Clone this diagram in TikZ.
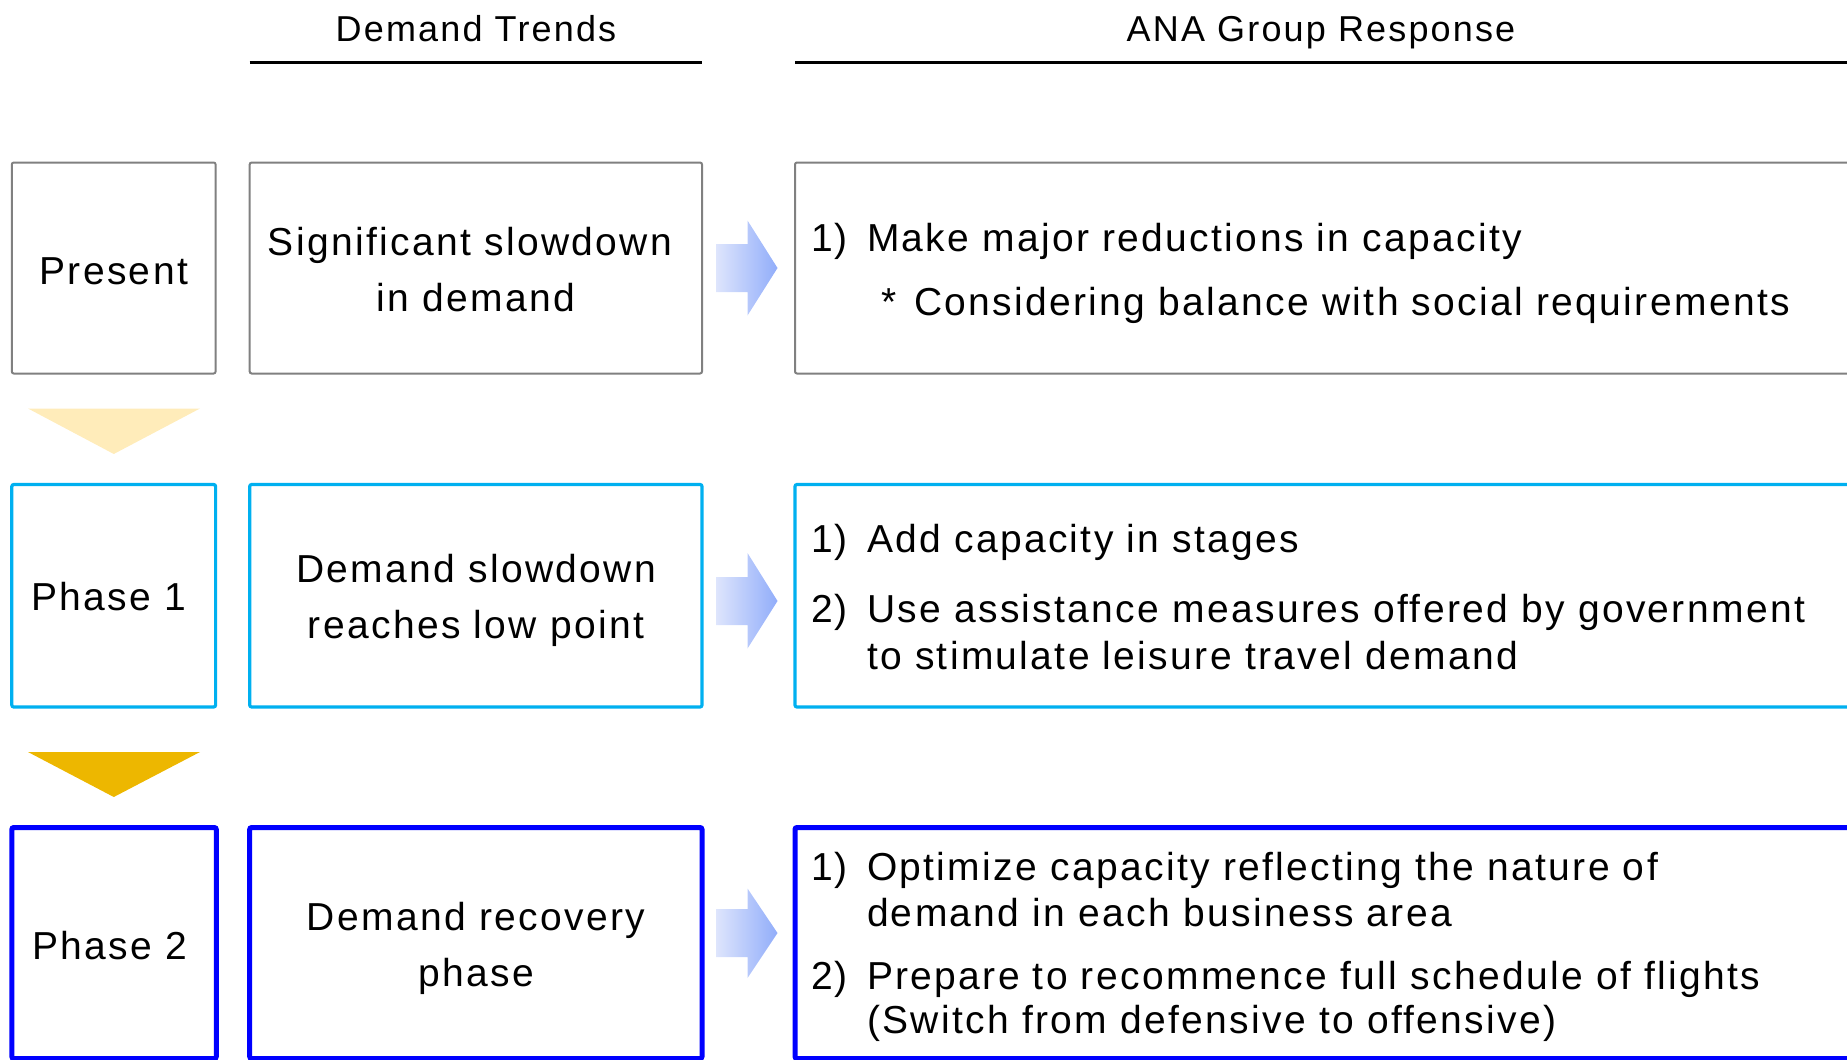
\documentclass[tikz,border=0pt]{standalone}
\usepackage{fontspec}
\setmainfont[LetterSpace=6]{Liberation Sans}
\usetikzlibrary{calc}
\definecolor{grayb}{RGB}{128,128,128}
\definecolor{cyanb}{RGB}{0,176,240}
\definecolor{blueb}{RGB}{0,0,255}
\definecolor{triA}{RGB}{255,236,186}
\definecolor{triB}{RGB}{237,183,0}
\definecolor{arrL}{RGB}{222,229,252}
\definecolor{arrR}{RGB}{145,173,250}
\begin{document}
\begin{tikzpicture}[x=1pt,y=-1pt,
  boxbase/.style={rectangle,inner sep=0pt,outer sep=0pt,anchor=north west,rounded corners=2pt,fill=white},
  rowA/.style={boxbase,draw=grayb,line width=2pt},
  rowB/.style={boxbase,draw=cyanb,line width=3.2pt},
  rowC/.style={boxbase,draw=blueb,line width=5pt},
  txt/.style={inner sep=0pt,outer sep=0pt,font=\fontsize{39}{46}\selectfont},
  hdr/.style={inner sep=0pt,outer sep=0pt,font=\fontsize{36}{42}\selectfont},
  blk/.style={left color=arrL,right color=arrR,draw=none},
  rule/.style={line width=3pt,black}
]
\useasboundingbox (0,0) rectangle (1847,1060);
\clip (0,0) rectangle (1847,1060);

% headers
\node[hdr,anchor=base] (h1) at (476,41) {Demand Trends};
\node[hdr,anchor=base] (h2) at (1321,41) {ANA Group Response};
\draw[rule] (249.7,62.4) -- (702,62.4);
\draw[rule] (795,62.4) -- (1870,62.4);

% row 1
\node[rowA,minimum width=203.8pt,minimum height=211pt] (p0) at (11.8,162.5) {};
\node[rowA,minimum width=452.3pt,minimum height=211pt] (d0) at (249.7,162.5) {};
\node[rowA,minimum width=1075pt,minimum height=211pt] (r0) at (795,162.5) {};
\node[txt,anchor=base] (p0t) at (113.7,284) {Present};
\node[txt,anchor=base] (d0a) at (470,255) {Significant slowdown};
\node[txt,anchor=base] (d0b) at (476,311.7) {in demand};
\node[txt,anchor=base west] (r0n) at (811,251.7) {1)};
\node[txt,anchor=base west] (r0a) at (867,251.7) {Make major reductions in capacity};
\node[txt,anchor=base west] (r0s) at (881,315) {*};
\node[txt,anchor=base west] (r0b) at (914,315) {Considering balance with social requirements};
\shade[blk] (716,244) -- (747.5,244) -- (747.5,220.5) -- (777.5,268) -- (747.5,315.5) -- (747.5,292) -- (716,292) -- cycle;

% triangle 1
\fill[triA] (28,408.5) -- (200,408.5) -- (113.8,454) -- cycle;

% row 2
\node[rowB,minimum width=203.8pt,minimum height=222.5pt] (p1) at (11.8,484.5) {};
\node[rowB,minimum width=452.3pt,minimum height=222.5pt] (d1) at (249.7,484.5) {};
\node[rowB,minimum width=1075pt,minimum height=222.5pt] (r1) at (795,484.5) {};
\node[txt,anchor=base] (p1t) at (109,610.7) {Phase 1};
\node[txt,anchor=base] (d1a) at (476,582.7) {Demand slowdown};
\node[txt,anchor=base] (d1b) at (476,638.7) {reaches low point};
\node[txt,anchor=base west] (r1n1) at (811,552.7) {1)};
\node[txt,anchor=base west] (r1a) at (867,552.7) {Add capacity in stages};
\node[txt,anchor=base west] (r1n2) at (811,622) {2)};
\node[txt,anchor=base west] (r1b) at (867,622) {Use assistance measures offered by government};
\node[txt,anchor=base west] (r1c) at (867,669) {to stimulate leisure travel demand};
\shade[blk] (716,577) -- (747.5,577) -- (747.5,553) -- (777.5,601) -- (747.5,648.5) -- (747.5,625) -- (716,625) -- cycle;

% triangle 2
\fill[triB] (28,752) -- (200,752) -- (113.8,797) -- cycle;

% row 3
\node[rowC,minimum width=204.5pt,minimum height=231pt] (p2) at (11.8,827.5) {};
\node[rowC,minimum width=452.3pt,minimum height=231pt] (d2) at (249.7,827.5) {};
\node[rowC,minimum width=1075pt,minimum height=231pt] (r2) at (795,827.5) {};
\node[txt,anchor=base] (p2t) at (109.6,959) {Phase 2};
\node[txt,anchor=base] (d2a) at (476,930.7) {Demand recovery};
\node[txt,anchor=base] (d2b) at (476,986.7) {phase};
\node[txt,anchor=base west] (r2n1) at (811,880) {1)};
\node[txt,anchor=base west] (r2a) at (867,880) {Optimize capacity reflecting the nature of};
\node[txt,anchor=base west] (r2b) at (867,926) {demand in each business area};
\node[txt,anchor=base west] (r2n2) at (811,989) {2)};
\node[txt,anchor=base west] (r2c) at (867,989) {Prepare to recommence full schedule of flights};
\node[txt,anchor=base west] (r2d) at (867,1033) {(Switch from defensive to offensive)};
\shade[blk] (716,909) -- (747.5,909) -- (747.5,888.5) -- (777.5,933) -- (747.5,978) -- (747.5,957) -- (716,957) -- cycle;
\end{tikzpicture}
\end{document}
